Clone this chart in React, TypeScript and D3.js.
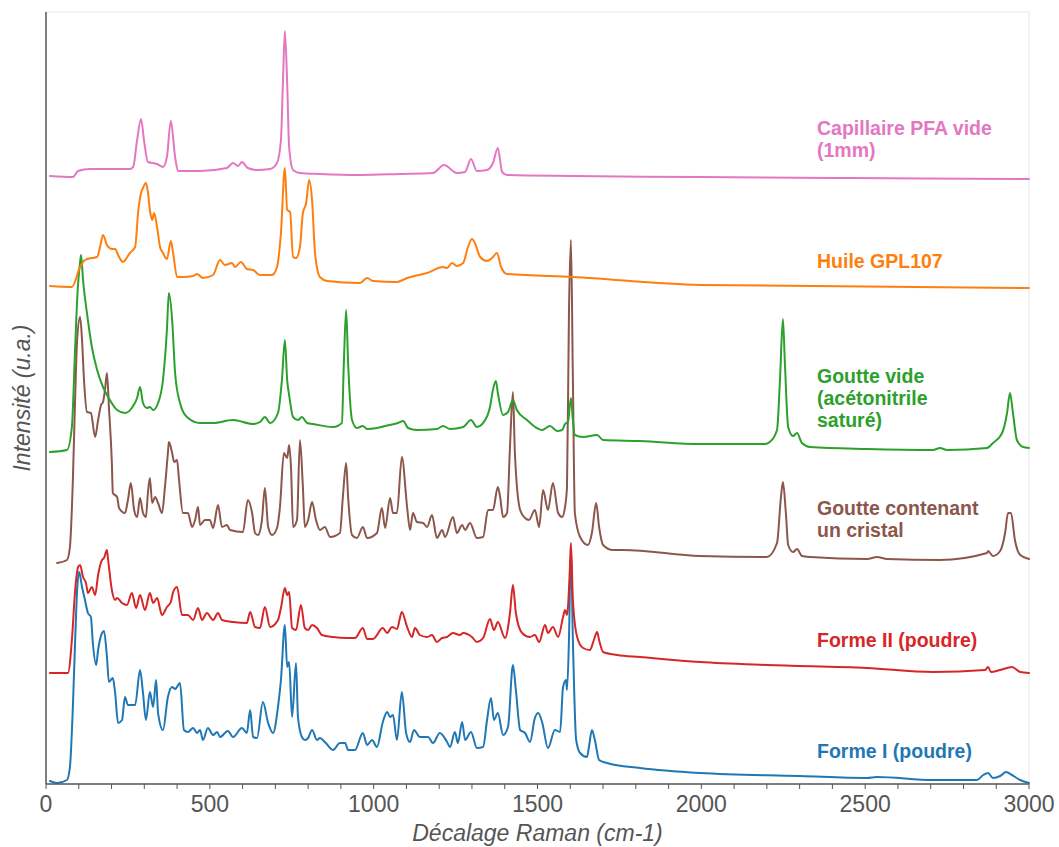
import React from "react";
import * as d3 from "d3";

// Raman shift (cm-1), intensity (a.u., already offset for stacking)
const capillaire: [number, number][] = [
  [12,608],[82,607],[98,613],[134,615],[256,615],[266,617],[278,644],[290,665],[299,644],[311,622],
  [339,620],[357,617],[369,627],[381,663],[394,627],[403,613],[470,613],[552,616],[571,621],[586,618],
  [598,622],[616,616],[644,614],[684,615],[705,621],[717,644],[723,701],[729,753],[736,701],[742,637],
  [754,614],[775,611],[836,610],[958,609],[1080,610],[1181,611],[1215,619],[1254,611],[1279,612],[1297,625],
  [1315,613],[1346,614],[1364,621],[1379,636],[1392,612],[1407,609],[1608,608],[1996,607],[2454,606],[3000,605]
];

const huile: [number, number][] = [
  [12,498],[79,497],[104,517],[119,524],[140,526],[156,527],[165,537],[174,549],[186,539],[201,535],
  [211,535],[220,529],[235,522],[256,531],[272,537],[281,571],[290,591],[296,596],[305,601],[311,592],
  [317,574],[324,564],[330,571],[339,557],[348,537],[357,531],[369,525],[381,543],[388,531],[400,507],
  [418,507],[449,508],[461,510],[479,506],[510,509],[531,524],[546,519],[568,521],[577,517],[595,522],
  [613,515],[632,514],[653,509],[690,509],[705,517],[717,551],[729,616],[736,574],[745,572],[754,527],
  [763,526],[775,537],[784,571],[794,581],[803,604],[812,584],[821,531],[836,507],[858,503],[958,501],
  [980,506],[998,503],[1071,502],[1102,506],[1163,511],[1212,517],[1224,516],[1239,521],[1254,518],[1273,521],
  [1288,537],[1300,545],[1309,541],[1325,527],[1346,523],[1364,527],[1376,531],[1389,517],[1407,510],[1608,507],
  [1996,499],[3000,496]
];

const goutteVide: [number, number][] = [
  [12,332],[64,334],[79,357],[89,437],[95,484],[104,522],[107,529],[113,504],[125,471],[140,437],
  [156,414],[174,397],[195,384],[217,374],[241,371],[262,376],[278,386],[287,397],[296,381],[308,376],
  [317,377],[327,374],[342,381],[357,404],[369,454],[375,491],[385,464],[394,411],[409,381],[430,367],
  [470,361],[510,361],[571,364],[632,360],[653,362],[668,367],[684,361],[708,371],[720,404],[729,444],
  [736,404],[742,389],[754,367],[769,364],[781,367],[797,361],[815,360],[876,357],[903,361],[909,421],
  [916,474],[922,421],[934,364],[949,356],[967,358],[980,355],[1010,356],[1035,358],[1074,361],[1090,363],
  [1105,356],[1132,354],[1193,355],[1212,358],[1233,355],[1273,357],[1297,364],[1315,357],[1334,361],[1355,377],
  [1364,394],[1373,403],[1379,391],[1395,369],[1410,372],[1425,384],[1437,374],[1468,364],[1498,356],[1514,354],
  [1538,358],[1560,353],[1575,354],[1584,360],[1593,362],[1602,386],[1608,364],[1614,349],[1639,347],[1682,349],
  [1700,344],[1813,343],[1996,340],[2194,340],[2209,342],[2231,354],[2240,404],[2249,465],[2255,421],[2265,357],
  [2280,348],[2292,351],[2307,341],[2332,337],[2506,335],[2707,334],[2728,336],[2750,334],[2872,336],[2890,341],
  [2918,351],[2933,371],[2942,391],[2951,371],[2963,344],[2982,337],[3000,336]
];

const goutteCristal: [number, number][] = [
  [34,221],[64,224],[73,237],[82,304],[89,387],[95,444],[104,467],[110,444],[116,404],[125,372],
  [137,371],[150,347],[159,364],[168,379],[174,382],[180,394],[186,411],[192,377],[201,321],[204,291],
  [217,287],[223,276],[241,271],[250,284],[259,301],[269,274],[278,267],[287,286],[296,271],[305,267],
  [311,291],[317,306],[324,281],[333,287],[342,281],[354,271],[363,297],[372,331],[375,342],[385,331],
  [391,322],[400,324],[406,304],[418,271],[433,271],[446,257],[455,264],[464,277],[470,259],[485,264],
  [500,264],[510,256],[525,279],[537,257],[552,259],[562,254],[601,252],[616,284],[629,271],[638,251],
  [647,249],[659,264],[668,296],[678,257],[690,249],[705,256],[714,277],[726,331],[736,326],[742,339],
  [748,314],[754,257],[766,264],[775,344],[784,297],[790,257],[800,264],[812,282],[824,264],[836,254],
  [851,257],[867,247],[897,251],[906,287],[916,321],[922,287],[934,249],[949,246],[967,257],[980,246],
  [1010,251],[1025,276],[1035,256],[1050,286],[1059,271],[1071,271],[1086,327],[1102,277],[1111,254],[1120,271],
  [1132,262],[1151,261],[1163,257],[1178,269],[1193,246],[1209,254],[1218,247],[1242,267],[1254,251],[1270,259],
  [1279,254],[1294,261],[1315,246],[1334,247],[1349,274],[1364,274],[1379,297],[1386,287],[1395,267],[1407,271],
  [1416,337],[1425,392],[1431,331],[1447,274],[1462,266],[1474,264],[1492,274],[1505,257],[1517,294],[1532,274],
  [1547,301],[1563,271],[1575,267],[1584,277],[1590,297],[1596,471],[1602,544],[1608,404],[1614,271],[1630,247],
  [1654,239],[1666,251],[1679,281],[1688,257],[1700,239],[1730,234],[1761,234],[1996,228],[2200,227],[2231,241],
  [2243,287],[2249,302],[2258,271],[2265,239],[2280,232],[2292,235],[2307,228],[2332,227],[2506,225],[2536,227],
  [2567,225],[2728,224],[2872,231],[2875,233],[2890,228],[2912,233],[2927,251],[2936,271],[2945,271],[2957,244],
  [2973,229],[3000,225]
];

const formeII: [number, number][] = [
  [12,111],[67,111],[79,144],[89,194],[98,217],[104,219],[113,207],[122,201],[128,191],[140,197],
  [150,189],[159,209],[171,224],[177,226],[186,234],[189,226],[201,194],[211,184],[217,186],[232,181],
  [247,179],[262,191],[275,176],[287,189],[302,174],[317,191],[327,181],[339,186],[354,169],[369,177],
  [381,182],[388,192],[400,197],[415,169],[433,169],[449,164],[464,176],[476,164],[491,171],[510,164],
  [525,171],[537,164],[571,162],[613,161],[623,172],[638,157],[653,156],[668,177],[684,157],[708,164],
  [717,176],[729,196],[736,189],[742,192],[751,156],[763,154],[778,179],[790,156],[800,154],[812,159],
  [827,156],[842,149],[876,147],[919,146],[943,146],[967,156],[980,145],[998,145],[1028,156],[1041,151],
  [1056,157],[1071,155],[1086,172],[1102,157],[1117,147],[1126,156],[1141,149],[1163,147],[1178,149],[1193,142],
  [1209,146],[1224,147],[1242,151],[1263,149],[1273,151],[1300,147],[1315,142],[1334,146],[1355,165],[1367,154],
  [1379,162],[1401,146],[1416,171],[1425,199],[1434,171],[1453,151],[1477,147],[1492,149],[1505,142],[1523,159],
  [1532,151],[1547,157],[1563,147],[1578,167],[1584,174],[1590,169],[1599,217],[1602,241],[1608,184],[1621,147],
  [1639,136],[1660,134],[1672,144],[1682,152],[1688,144],[1700,132],[1743,129],[1813,127],[1996,122],[2200,119],
  [2506,116],[2707,112],[2866,114],[2875,117],[2884,112],[2912,114],[2948,117],[2973,112],[3000,111]
];

const formeI: [number, number][] = [
  [12,3],[34,1],[64,4],[73,17],[82,77],[89,144],[95,194],[101,212],[110,197],[119,184],
  [128,171],[137,167],[143,141],[153,119],[159,134],[171,151],[177,153],[186,127],[192,102],[204,106],
  [211,91],[220,61],[232,64],[241,87],[250,79],[272,79],[287,114],[296,91],[305,64],[317,92],
  [327,77],[336,104],[342,71],[357,54],[372,87],[385,97],[394,95],[409,101],[421,54],[433,52],
  [449,56],[461,51],[470,54],[479,44],[494,56],[510,49],[522,52],[531,47],[555,53],[571,47],
  [598,56],[613,51],[623,74],[632,47],[644,46],[662,82],[678,61],[693,51],[708,77],[717,104],
  [729,159],[736,117],[742,122],[751,67],[763,121],[769,67],[781,47],[790,44],[800,46],[812,54],
  [827,44],[836,46],[851,42],[876,34],[897,41],[913,41],[922,34],[943,34],[967,51],[980,39],
  [995,44],[1010,37],[1028,62],[1041,72],[1050,67],[1059,69],[1071,44],[1086,92],[1099,51],[1111,42],
  [1123,54],[1141,47],[1166,47],[1181,41],[1202,51],[1224,42],[1233,37],[1248,52],[1257,41],[1270,62],
  [1279,44],[1297,52],[1315,36],[1334,37],[1346,64],[1358,86],[1367,64],[1379,71],[1395,49],[1410,57],
  [1425,119],[1434,94],[1447,54],[1462,51],[1477,42],[1492,66],[1502,71],[1514,62],[1532,36],[1553,54],
  [1569,52],[1578,97],[1587,104],[1590,94],[1596,144],[1602,236],[1608,144],[1618,44],[1630,31],[1651,27],
  [1657,37],[1666,54],[1675,44],[1688,24],[1712,21],[1813,16],[1996,11],[2301,8],[2506,6],[2536,7],
  [2707,4],[2841,4],[2860,9],[2875,11],[2890,6],[2912,8],[2930,12],[2948,9],[2973,4],[3000,1]
];

const seriesNames = [
  "Forme I (poudre)",
  "Forme II (poudre)",
  "Goutte contenant un cristal",
  "Goutte vide (acétonitrile saturé)",
  "Huile GPL107",
  "Capillaire PFA vide (1mm)",
];
const seriesData = [formeI, formeII, goutteCristal, goutteVide, huile, capillaire];
const seriesColors = ["#1f77b4", "#d62728", "#8c564b", "#2ca02c", "#ff7f0e", "#e377c2"];
const labelLines = [
  ["Forme I (poudre)"],
  ["Forme II (poudre)"],
  ["Goutte contenant", "un cristal"],
  ["Goutte vide", "(acétonitrile", "saturé)"],
  ["Huile GPL107"],
  ["Capillaire PFA vide", "(1mm)"],
];
// intensity level of the first label line's baseline
const labelLevels = [26, 137, 269, 401, 516, 649];

const xTicksMajor = [0, 500, 1000, 1500, 2000, 2500, 3000];
const xTicksMinor = d3.range(0, 3001, 100);

const W = 1059;
const H = 847;
const M = { left: 46, right: 1029, top: 12, bottom: 784 };

export default function App() {
  const x = d3.scaleLinear().domain([0, 3000]).range([M.left, M.right]);
  const y = d3.scaleLinear().domain([0, 772]).range([M.bottom, M.top]);
  const line = d3
    .line<[number, number]>()
    .x((d) => x(d[0]))
    .y((d) => y(d[1]))
    .curve(d3.curveMonotoneX);

  const font = "'Liberation Sans', Arial, Helvetica, sans-serif";
  const axisColor = "#555";

  return (
    <svg
      width={W}
      height={H}
      style={{ position: "absolute", left: 0, top: 0, display: "block", background: "#fff" }}
      fontFamily={font}
    >
      <rect x={0} y={0} width={W} height={H} fill="#fff" />
      <line x1={M.left} x2={M.right} y1={M.top} y2={M.top} stroke="#e6e6e6" strokeWidth={1} />
      <line x1={M.right} x2={M.right} y1={M.top} y2={M.bottom} stroke="#e6e6e6" strokeWidth={1} />

      {seriesData.map((s, i) => (
        <path
          key={seriesNames[i]}
          d={line(s) || ""}
          fill="none"
          stroke={seriesColors[i]}
          strokeWidth={2}
          strokeLinejoin="round"
          strokeLinecap="round"
        />
      ))}

      {labelLines.map((lines, i) => (
        <text
          key={"lab" + i}
          x={817}
          y={y(labelLevels[i])}
          fill={seriesColors[i]}
          fontSize={19.5}
          fontWeight="bold"
        >
          {lines.map((l, j) => (
            <tspan key={j} x={817} dy={j === 0 ? 0 : 22}>
              {l}
            </tspan>
          ))}
        </text>
      ))}

      <line x1={M.left} x2={M.left} y1={M.top} y2={M.bottom} stroke={axisColor} strokeWidth={1.5} />
      <line x1={M.left} x2={M.right} y1={M.bottom} y2={M.bottom} stroke={axisColor} strokeWidth={1.5} />
      {xTicksMinor.map((t) => (
        <line key={"t" + t} x1={x(t)} x2={x(t)} y1={M.bottom} y2={M.bottom + 5} stroke={axisColor} strokeWidth={1} />
      ))}
      {xTicksMajor.map((t) => (
        <text key={"l" + t} x={x(t)} y={812} textAnchor="middle" fontSize={23} fill="#555">
          {t}
        </text>
      ))}
      <text x={(M.left + M.right) / 2} y={841} textAnchor="middle" fontSize={23} fontStyle="italic" fill="#555">
        Décalage Raman (cm-1)
      </text>
      <text
        transform={`translate(30, ${(M.top + M.bottom) / 2}) rotate(-90)`}
        textAnchor="middle"
        fontSize={23}
        fontStyle="italic"
        fill="#555"
      >
        Intensité (u.a.)
      </text>
    </svg>
  );
}
